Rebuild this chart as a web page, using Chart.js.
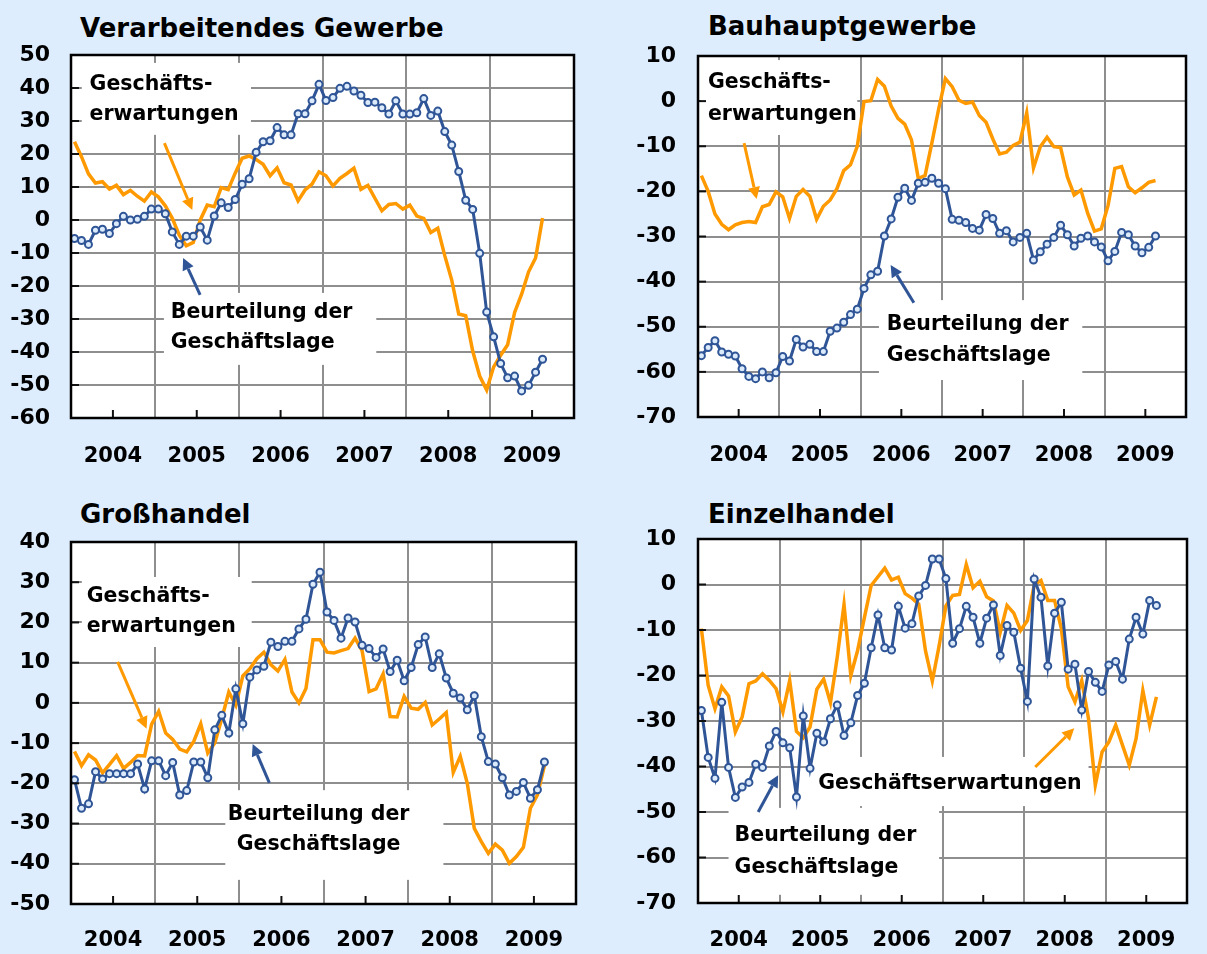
<!DOCTYPE html>
<html>
<head>
<meta charset="utf-8">
<script src="https://cdn.jsdelivr.net/npm/chart.js@4.4.1/dist/chart.umd.min.js"></script>
<style>
  html, body { margin: 0; padding: 0; width: 1207px; height: 954px; overflow: hidden; background: #DDEDFD; }
  canvas { position: absolute; }
  .title { position: absolute; font: bold 26px "DejaVu Sans"; line-height: 30px; color: #000; white-space: nowrap; }
</style>
</head>
<body>
<div class="title" style="left:80px;top:13px">Verarbeitendes Gewerbe</div>
<div class="title" style="left:708px;top:11px">Bauhauptgewerbe</div>
<div class="title" style="left:80px;top:499px">Großhandel</div>
<div class="title" style="left:708px;top:499px">Einzelhandel</div>

<canvas id="c1" width="600" height="477" style="left:0;top:0;width:600px;height:477px"></canvas>
<canvas id="c2" width="612" height="477" style="left:600px;top:0;width:612px;height:477px"></canvas>
<canvas id="c3" width="600" height="474" style="left:0;top:480px;width:600px;height:474px"></canvas>
<canvas id="c4" width="612" height="474" style="left:600px;top:480px;width:612px;height:474px"></canvas>

<script>
// monthly values, Jan 2004 .. Aug 2009
const years = ['2004', '2005', '2006', '2007', '2008', '2009'];

// Verarbeitendes Gewerbe
const vgLage = [-5.6, -6.2, -7.4, -3.1, -2.8, -4.1, -1.1, 1.1, 0.0, 0.2,
  1.1, 3.3, 3.3, 1.9, -3.6, -7.4, -4.9, -4.9, -2.1, -6.1,
  1.2, 5.2, 3.8, 6.2, 10.8, 12.5, 20.5, 23.7, 24.0, 28.0,
  25.8, 25.8, 32.2, 32.2, 36.1, 41.1, 36.2, 37.1, 39.9, 40.5,
  39.1, 37.8, 35.6, 35.7, 34.0, 32.1, 36.1, 32.1, 32.1, 32.5,
  36.8, 31.7, 33.0, 26.8, 22.7, 14.7, 6.0, 3.2, -10.1, -27.9,
  -35.4, -43.5, -47.8, -47.3, -51.8, -50.1, -46.1, -42.2];
const vgErw = [23.7, 19.2, 14.0, 11.2, 11.6, 9.4, 10.5, 7.7, 9.0, 7.2,
  5.7, 8.5, 7.0, 4.3, 0.5, -4.6, -7.8, -6.8, 0.0, 4.5,
  4.0, 9.8, 9.2, 14.2, 18.7, 19.4, 18.3, 16.9, 13.4, 15.8,
  11.3, 10.6, 5.8, 9.1, 10.9, 14.6, 13.4, 10.3, 12.6, 14.1,
  15.7, 9.3, 10.5, 6.6, 2.8, 4.7, 5.0, 3.3, 4.5, 1.2,
  0.5, -3.8, -2.5, -10.8, -18.2, -28.5, -29.0, -39.7, -47.3, -51.5,
  -44.5, -41.0, -37.8, -28.0, -22.5, -15.7, -11.5, 0.6];

// Bauhauptgewerbe
const bauLage = [-56.4, -54.6, -53.1, -55.6, -56.1, -56.5, -59.3, -61.0, -61.5, -60.0,
  -61.3, -60.2, -56.6, -57.6, -52.8, -54.5, -53.9, -55.5, -55.5, -51.0,
  -50.3, -49.0, -47.3, -46.1, -41.5, -38.5, -37.7, -29.9, -26.1, -21.3,
  -19.3, -22.0, -18.2, -18.0, -17.1, -18.2, -19.4, -26.2, -26.4, -26.9,
  -28.2, -28.6, -25.1, -26.0, -29.3, -28.7, -31.2, -30.2, -29.3, -35.2,
  -33.4, -31.7, -30.2, -27.5, -29.6, -32.1, -30.4, -29.9, -31.2, -32.3,
  -35.4, -33.3, -29.1, -29.6, -32.1, -33.6, -32.4, -29.9];
const bauErw = [-16.5, -20.0, -25.0, -27.3, -28.5, -27.4, -26.9, -26.7, -26.9, -23.4,
  -22.9, -20.1, -21.2, -26.0, -21.1, -19.6, -21.1, -26.2, -23.3, -21.9,
  -19.4, -15.4, -14.1, -10.0, -0.1, 0.1, 4.8, 3.3, -1.1, -3.8,
  -5.1, -8.6, -17.1, -16.5, -9.3, -1.8, 5.0, 3.2, 0.2, -0.5,
  -0.2, -3.2, -4.7, -8.4, -11.7, -11.3, -9.8, -9.1, -2.6, -14.8,
  -10.1, -8.0, -10.1, -10.3, -16.8, -20.8, -19.7, -24.9, -28.8, -28.3,
  -23.1, -14.9, -14.5, -19.0, -20.3, -19.2, -18.0, -17.6];

// Großhandel
const ghLage = [-19.1, -26.2, -25.1, -17.1, -18.9, -17.6, -17.6, -17.6, -17.6, -15.2,
  -21.4, -14.4, -14.4, -18.1, -14.8, -22.9, -21.8, -14.7, -14.7, -18.6,
  -6.7, -3.1, -7.5, 3.5, -5.2, 6.4, 8.2, 9.1, 15.1, 14.0,
  15.3, 15.3, 18.4, 20.8, 29.5, 32.5, 22.6, 20.5, 16.1, 21.1,
  20.1, 14.3, 13.5, 11.3, 13.4, 7.8, 10.6, 5.5, 8.8, 14.5,
  16.4, 8.8, 12.2, 6.2, 2.4, 1.2, -1.7, 1.8, -8.4, -14.6,
  -15.2, -18.6, -22.9, -22.0, -19.8, -23.7, -21.6, -14.7];
const ghErw = [-12.1, -15.6, -12.9, -14.2, -17.4, -15.3, -13.1, -16.3, -14.8, -13.1,
  -13.2, -5.3, -2.1, -7.5, -9.1, -11.5, -12.2, -9.6, -5.2, -12.5,
  -10.0, -3.9, 2.7, -0.6, 6.7, 8.5, 11.0, 12.6, 9.5, 7.9,
  10.8, 2.7, 0.0, 3.6, 15.7, 15.7, 12.6, 12.4, 13.0, 13.5,
  16.1, 13.0, 2.8, 3.5, 7.2, -3.4, -3.5, 1.6, -1.3, -1.6,
  0.1, -5.5, -4.0, -2.4, -17.3, -13.3, -20.0, -31.2, -34.5, -37.4,
  -35.1, -36.6, -39.9, -38.2, -35.9, -26.2, -22.9, -15.6];

// Einzelhandel
const ehLage = [-27.7, -38.0, -42.6, -25.9, -40.2, -46.8, -44.5, -43.5, -39.5, -40.2,
  -35.5, -32.3, -34.8, -35.9, -46.7, -28.9, -40.4, -32.7, -34.6, -29.5,
  -26.5, -33.2, -30.4, -24.4, -21.7, -13.9, -6.7, -13.9, -14.4, -4.8,
  -9.6, -8.6, -2.5, -0.2, 5.6, 5.6, 1.3, -12.9, -9.7, -4.8,
  -7.2, -12.9, -7.4, -4.5, -15.6, -9.0, -10.5, -18.4, -25.7, 1.2,
  -2.8, -17.9, -6.3, -3.9, -18.6, -17.5, -27.6, -19.1, -21.5, -23.5,
  -17.7, -16.9, -20.8, -12.0, -7.2, -10.9, -3.5, -4.6];
const ehErw = [-9.7, -22.2, -27.3, -22.5, -24.5, -32.4, -29.1, -21.8, -21.2, -19.6,
  -21.1, -22.9, -28.0, -21.1, -32.3, -33.7, -31.3, -23.0, -20.8, -26.0,
  -16.0, -4.4, -20.0, -14.5, -7.3, -0.2, 1.7, 3.6, 1.0, 1.6,
  -2.0, -3.0, -4.3, -14.6, -21.2, -13.5, -4.7, -2.4, -2.2, 4.4,
  -0.7, 0.7, -2.7, -3.6, -10.5, -4.6, -6.3, -10.1, -7.9, -0.1,
  0.9, -3.5, -3.5, -9.7, -22.5, -25.8, -21.1, -29.5, -44.1, -36.8,
  -34.6, -30.9, -35.3, -39.7, -33.9, -23.3, -30.9, -24.7];

const ORANGE = '#FF9900';
const BLUE = '#2F5597';
const GRID = '#8E8E8E';
const FONT = 'DejaVu Sans';

// month i sits in the middle of its month on a 0..72 axis
function series(values) {
  return values.map((v, i) => ({ x: i + 0.5, y: v }));
}

const panelDecor = {
  id: 'panelDecor',
  beforeDraw(chart) {
    const a = chart.chartArea, ctx = chart.ctx;
    ctx.save();
    ctx.fillStyle = '#fff';
    ctx.fillRect(a.left, a.top, a.right - a.left, a.bottom - a.top);
    ctx.restore();
  },
  beforeDatasetsDraw(chart, args, opts) {
    const ctx = chart.ctx, sx = chart.scales.x, sy = chart.scales.y;
    const px = (x, y) => [sx.getPixelForValue(x), sy.getPixelForValue(y)];
    ctx.save();
    ctx.fillStyle = '#fff';
    (opts.boxes || []).forEach(b => {
      const [x0, y0] = px(b[0], b[1]);
      const [x1, y1] = px(b[2], b[3]);
      ctx.fillRect(x0, y0, x1 - x0, y1 - y0);
    });
    ctx.fillStyle = '#000';
    ctx.font = 'bold 20.5px "' + FONT + '"';
    ctx.textBaseline = 'middle';
    (opts.texts || []).forEach(t => {
      const [x, y] = px(t.x, t.y);
      ctx.textAlign = t.align || 'left';
      ctx.fillText(t.text, x, y);
    });
    (opts.arrows || []).forEach(ar => {
      const [x0, y0] = px(ar.from[0], ar.from[1]);
      const [x1, y1] = px(ar.to[0], ar.to[1]);
      const ang = Math.atan2(y1 - y0, x1 - x0);
      const len = 12, half = 6;
      const bx = x1 - len * Math.cos(ang), by = y1 - len * Math.sin(ang);
      ctx.strokeStyle = ar.color;
      ctx.fillStyle = ar.color;
      ctx.lineWidth = 3;
      ctx.beginPath();
      ctx.moveTo(x0, y0);
      ctx.lineTo(bx, by);
      ctx.stroke();
      ctx.beginPath();
      ctx.moveTo(x1, y1);
      ctx.lineTo(bx + half * Math.sin(ang), by - half * Math.cos(ang));
      ctx.lineTo(bx - half * Math.sin(ang), by + half * Math.cos(ang));
      ctx.closePath();
      ctx.fill();
    });
    ctx.restore();
  },
  afterDraw(chart) {
    const a = chart.chartArea, ctx = chart.ctx;
    const sx = chart.scales.x, sy = chart.scales.y;
    ctx.save();
    ctx.strokeStyle = '#111';
    ctx.lineWidth = 2;
    // inward ticks: left axis at every value, bottom axis mid-year
    sy.ticks.forEach(t => {
      const y = sy.getPixelForValue(t.value);
      ctx.beginPath(); ctx.moveTo(a.left, y); ctx.lineTo(a.left + 8, y); ctx.stroke();
    });
    sx.ticks.forEach(t => {
      if (t.value % 12 !== 6) return;
      const x = sx.getPixelForValue(t.value);
      ctx.beginPath(); ctx.moveTo(x, a.bottom); ctx.lineTo(x, a.bottom - 8); ctx.stroke();
    });
    ctx.strokeStyle = '#000';
    ctx.lineWidth = 2.5;
    ctx.strokeRect(a.left, a.top, a.right - a.left, a.bottom - a.top);
    ctx.restore();
  }
};

function makePanel(id, p) {
  new Chart(document.getElementById(id), {
    type: 'line',
    data: {
      datasets: [
        {
          label: 'Beurteilung der Geschäftslage',
          data: series(p.lage),
          borderColor: BLUE,
          borderWidth: 3,
          pointRadius: 3.5,
          pointBorderWidth: 2,
          pointBorderColor: BLUE,
          pointBackgroundColor: '#DCEBFB'
        },
        {
          label: 'Geschäftserwartungen',
          data: series(p.erw),
          borderColor: ORANGE,
          borderWidth: 3.5,
          pointRadius: 0
        }
      ]
    },
    options: {
      responsive: false,
      animation: false,
      devicePixelRatio: 1,
      layout: { autoPadding: false, padding: { top: p.padTop, right: p.padRight, left: 0, bottom: 0 } },
      plugins: {
        legend: { display: false },
        tooltip: { enabled: false },
        panelDecor: p.decor
      },
      scales: {
        x: {
          type: 'linear',
          min: 0,
          max: 72,
          afterBuildTicks: s => { s.ticks = Array.from({ length: 13 }, (_, k) => ({ value: k * 6 })); },
          afterFit: s => { s.height = p.xHeight; },
          border: { display: false },
          grid: {
            drawTicks: false,
            lineWidth: 2,
            color: c => (c.tick && c.tick.value % 12 === 0 && c.tick.value > 0 && c.tick.value < 72) ? GRID : 'rgba(0,0,0,0)'
          },
          ticks: {
            autoSkip: false,
            maxRotation: 0,
            padding: p.xPad,
            color: '#000',
            font: { family: FONT, weight: 'bold', size: 21 },
            callback: v => (v % 12 === 6 ? years[(v - 6) / 12] : '')
          }
        },
        y: {
          min: p.yMin,
          max: p.yMax,
          afterFit: s => { s.width = p.yWidth; },
          border: { display: false },
          grid: { drawTicks: false, lineWidth: 2, color: GRID },
          ticks: {
            stepSize: 10,
            padding: p.yPad,
            color: '#000',
            font: { family: FONT, weight: 'bold', size: 22 }
          }
        }
      }
    },
    plugins: [panelDecor]
  });
}

makePanel('c1', {
  lage: vgLage, erw: vgErw, yMin: -60, yMax: 50,
  padTop: 55, padRight: 15, yWidth: 71, yPad: 21, xHeight: 59, xPad: 26,
  decor: {
    boxes: [[1.54, 47.6, 25.76, 25.8], [13.3, -22.1, 43.7, -43.9]],
    texts: [
      { x: 2.66, y: 40.9, text: 'Geschäfts-' },
      { x: 2.66, y: 31.8, text: 'erwartungen' },
      { x: 14.28, y: -28.2, text: 'Beurteilung der' },
      { x: 14.28, y: -37.3, text: 'Geschäftslage' }
    ],
    arrows: [
      { from: [13.37, 23.3], to: [17.36, 3.0], color: ORANGE },
      { from: [18.48, -22.7], to: [16.05, -11.5], color: BLUE }
    ]
  }
});

makePanel('c2', {
  lage: bauLage, erw: bauErw, yMin: -70, yMax: 10,
  padTop: 56, padRight: 2, yWidth: 98, yPad: 22, xHeight: 60, xPad: 26,
  decor: {
    boxes: [[0.42, 9.1, 23.5, -7.5], [26.7, -44.1, 56.7, -61.8]],
    texts: [
      { x: 1.46, y: 4.0, text: 'Geschäfts-' },
      { x: 1.46, y: -3.1, text: 'erwartungen' },
      { x: 27.86, y: -49.6, text: 'Beurteilung der' },
      { x: 27.86, y: -56.5, text: 'Geschäftslage' }
    ],
    arrows: [
      { from: [6.8, -9.3], to: [8.65, -21.7], color: ORANGE },
      { from: [31.85, -44.7], to: [28.42, -36.3], color: BLUE }
    ]
  }
});

makePanel('c3', {
  lage: ghLage, erw: ghErw, yMin: -50, yMax: 40,
  padTop: 62, padRight: 15, yWidth: 71, yPad: 21, xHeight: 50, xPad: 24,
  decor: {
    boxes: [[1.54, 31.3, 25.76, 13.9], [22.0, -21.7, 53.1, -44.0]],
    texts: [
      { x: 2.24, y: 26.4, text: 'Geschäfts-' },
      { x: 2.24, y: 18.9, text: 'erwartungen' },
      { x: 35.3, y: -27.7, text: 'Beurteilung der', align: 'center' },
      { x: 35.3, y: -35.3, text: 'Geschäftslage', align: 'center' }
    ],
    arrows: [
      { from: [6.65, 10.2], to: [10.78, -6.4], color: ORANGE },
      { from: [28.28, -19.9], to: [25.9, -10.2], color: BLUE }
    ]
  }
});

makePanel('c4', {
  lage: ehLage, erw: ehErw, yMin: -70, yMax: 10,
  padTop: 59, padRight: 2, yWidth: 98, yPad: 22, xHeight: 51, xPad: 25,
  decor: {
    boxes: [[16.9, -37.9, 57.5, -48.7], [4.5, -49.1, 35.5, -68.2]],
    texts: [
      { x: 17.7, y: -43.8, text: 'Geschäftserwartungen' },
      { x: 5.39, y: -55.3, text: 'Beurteilung der' },
      { x: 5.39, y: -62.2, text: 'Geschäftslage' }
    ],
    arrows: [
      { from: [8.86, -50.0], to: [11.8, -41.9], color: BLUE },
      { from: [49.66, -40.1], to: [55.4, -31.6], color: ORANGE }
    ]
  }
});
</script>
</body>
</html>
